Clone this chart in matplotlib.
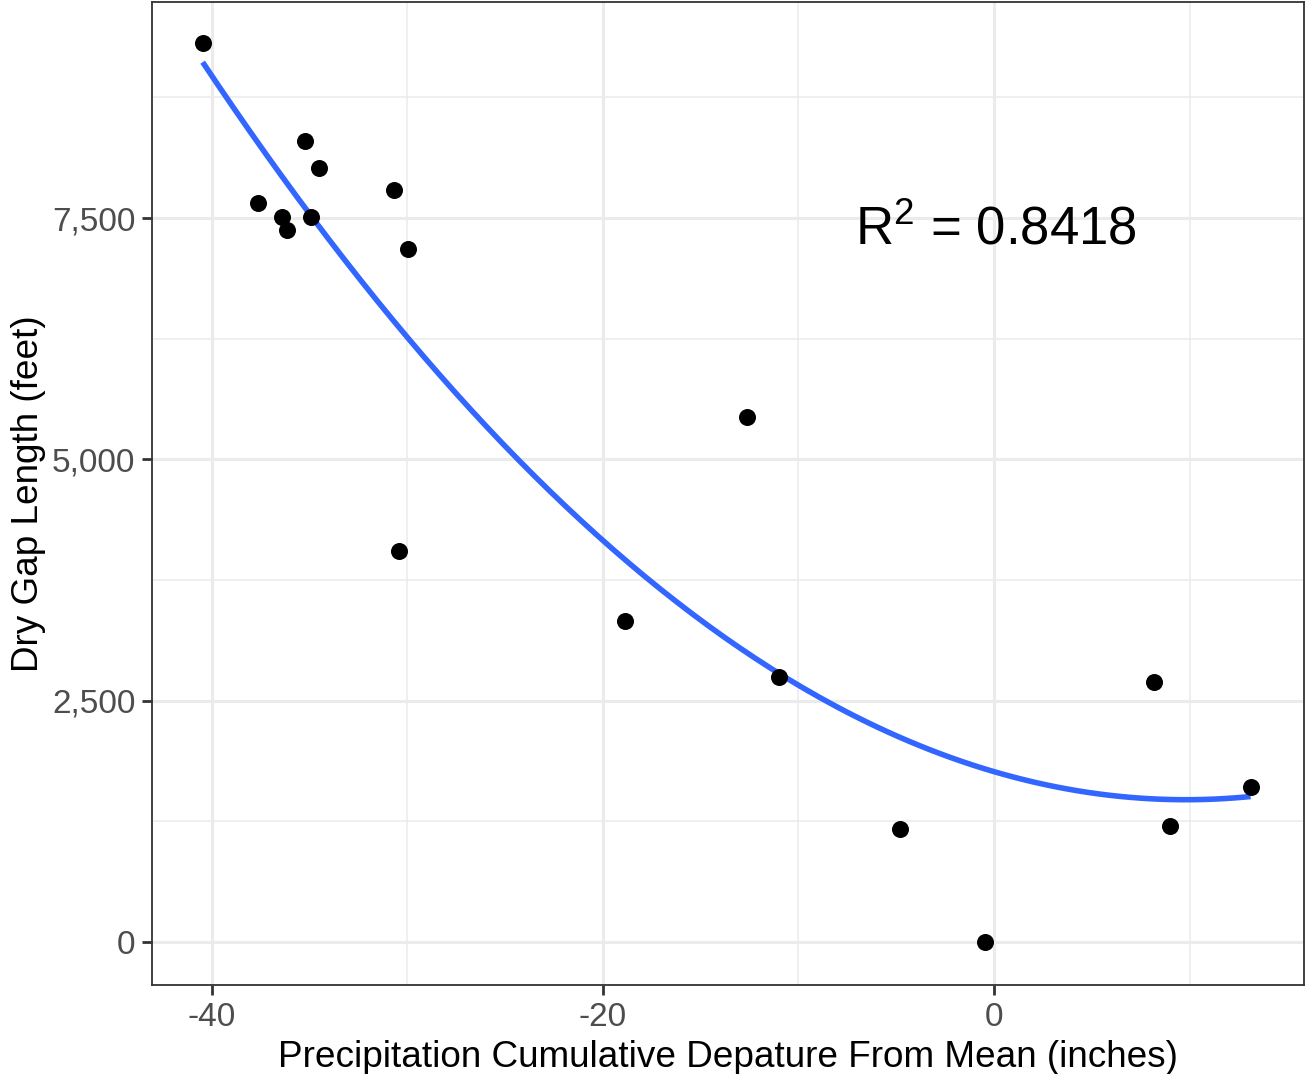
import numpy as np
import matplotlib
matplotlib.use("Agg")
import matplotlib.pyplot as plt
from matplotlib.ticker import FuncFormatter, MultipleLocator

precip = [-40.46, -37.65, -36.38, -36.17, -35.25, -34.90, -34.49, -30.70, -29.95,
          -30.40, -18.85, -12.65, -10.97, -4.79, -0.45, 8.18, 9.00, 13.12]
gap = [9315, 7656, 7510, 7376, 8299, 7510, 8019, 7790, 7178,
       4046, 3330, 5436, 2749, 1172, 0, 2697, 1203, 1608]
x_ticks = [-40, -20, 0]
y_ticks = [0, 2500, 5000, 7500]
r2_label = "R$^2$ = 0.8418"

plt.rcParams['font.family'] = ['Liberation Sans', 'DejaVu Sans']
plt.rcParams['mathtext.fontset'] = 'custom'
plt.rcParams['mathtext.rm'] = 'Liberation Sans'
plt.rcParams['axes.unicode_minus'] = False

W, H = 1305, 1074
fig = plt.figure(figsize=(W / 100, H / 100), dpi=100)
ax = fig.add_axes([152 / W, 1 - 985 / H, (1304 - 152) / W, (985 - 2) / H])

x = np.array(precip)
y = np.array(gap)
coef = np.polyfit(x, y, 2)
xs = np.linspace(x.min(), x.max(), 200)
ys = np.polyval(coef, xs)

ax.set_xlim(-43.05, 15.85)
ax.set_ylim(-445, 9738)

ax.xaxis.set_major_locator(MultipleLocator(20))
ax.xaxis.set_minor_locator(MultipleLocator(10))
ax.yaxis.set_major_locator(MultipleLocator(2500))
ax.yaxis.set_minor_locator(MultipleLocator(1250))
ax.set_xticks(x_ticks)
ax.set_yticks(y_ticks)
ax.yaxis.set_major_formatter(FuncFormatter(lambda v, p: f"{int(v):,}"))
ax.xaxis.set_major_formatter(FuncFormatter(lambda v, p: f"{int(v)}"))

ax.grid(which='major', color='#EBEBEB', linewidth=2.2)
ax.grid(which='minor', color='#EBEBEB', linewidth=1.1)
ax.set_axisbelow(True)

ax.plot(xs, ys, color='#3366FF', linewidth=4, zorder=3, solid_capstyle='butt')
ax.scatter(x, y, s=150, color='black', zorder=4, linewidths=0)

ax.text(-7.1, 7380, r2_label, fontsize=38, color='black', ha='left', va='center')

for s in ax.spines.values():
    s.set_color('#333333')
    s.set_linewidth(1.3)

ax.tick_params(which='major', length=7, width=2, color='#333333',
               labelsize=24, labelcolor='#4D4D4D', pad=5)
ax.tick_params(which='minor', length=0)

ax.set_xlabel("Precipitation Cumulative Depature From Mean (inches)", fontsize=26.6, color='black', labelpad=5)
ax.set_ylabel("Dry Gap Length (feet)", fontsize=26.6, color='black', labelpad=4)

fig.savefig("out.png", dpi=100, facecolor='white')
